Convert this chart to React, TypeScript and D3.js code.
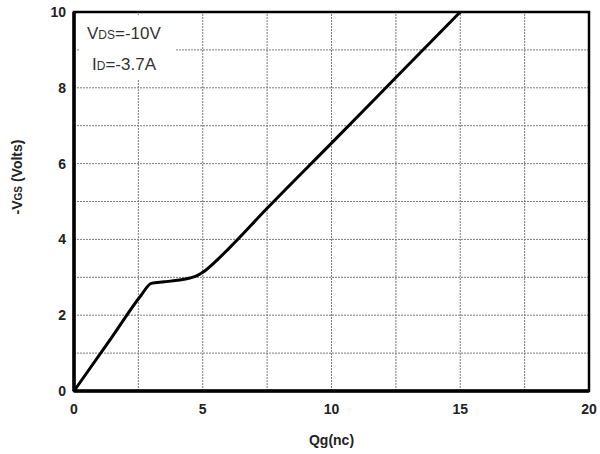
import React, { useEffect, useRef } from 'react';
import * as d3 from 'd3';

// gate charge curve
const qg = [0, 1.5, 2.6, 3, 3.5, 4, 4.5, 4.8, 5, 5.5, 6, 7.5, 10, 12.5, 15];
const vgs = [0, 1.45, 2.52, 2.84, 2.88, 2.92, 2.98, 3.05, 3.13, 3.42, 3.75, 4.82, 6.54, 8.27, 10];

const xTicks = [0, 5, 10, 15, 20];
const yTicks = [0, 2, 4, 6, 8, 10];
const xGrid = [2.5, 5, 7.5, 10, 12.5, 15, 17.5];
const yGrid = [1, 2, 3, 4, 5, 6, 7, 8, 9];

const W = 600;
const H = 454;
const m = { left: 74, right: 11, top: 12, bottom: 63 };

function draw(el: SVGSVGElement) {
    const svg = d3.select(el);
    svg.selectAll('*').remove();

    const x = d3.scaleLinear().domain([0, 20]).range([m.left, W - m.right]);
    const y = d3.scaleLinear().domain([0, 10]).range([H - m.bottom, m.top]);
    const font = 'Liberation Sans, Arial, sans-serif';

    const g = svg.append('g');

    // grid
    g.selectAll('.vg').data(xGrid).enter().append('line')
        .attr('x1', d => x(d)).attr('x2', d => x(d))
        .attr('y1', y(0)).attr('y2', y(10))
        .attr('stroke', '#7a7a7a').attr('stroke-width', 1).attr('stroke-dasharray', '2,1');
    g.selectAll('.hg').data(yGrid).enter().append('line')
        .attr('x1', x(0)).attr('x2', x(20))
        .attr('y1', d => y(d)).attr('y2', d => y(d))
        .attr('stroke', '#7a7a7a').attr('stroke-width', 1).attr('stroke-dasharray', '2,1');

    // legend box (hides grid behind text)
    g.append('rect').attr('x', 80).attr('y', 15).attr('width', 95).attr('height', 64).attr('fill', '#fff');

    const t1 = g.append('text').attr('x', 87).attr('y', 39)
        .attr('font-family', font).attr('font-size', 17).attr('fill', '#333');
    t1.append('tspan').text('V');
    t1.append('tspan').attr('font-size', 12).text('DS');
    t1.append('tspan').text('=-10V');

    const t2 = g.append('text').attr('x', 92).attr('y', 70)
        .attr('font-family', font).attr('font-size', 17).attr('fill', '#333');
    t2.append('tspan').text('I');
    t2.append('tspan').attr('font-size', 12).text('D');
    t2.append('tspan').text('=-3.7A');

    // frame
    g.append('rect')
        .attr('x', x(0)).attr('y', y(10))
        .attr('width', x(20) - x(0)).attr('height', y(0) - y(10))
        .attr('fill', 'none').attr('stroke', '#000').attr('stroke-width', 2.5);
    g.append('line').attr('x1', x(0)).attr('x2', x(0)).attr('y1', y(0)).attr('y2', y(10))
        .attr('stroke', '#000').attr('stroke-width', 3.5);
    g.append('line').attr('x1', x(0)).attr('x2', x(20)).attr('y1', y(0)).attr('y2', y(0))
        .attr('stroke', '#000').attr('stroke-width', 3.5);

    // curve
    const pts: [number, number][] = qg.map((q, i) => [q, vgs[i]]);
    const line = d3.line<[number, number]>()
        .x(d => x(d[0]))
        .y(d => y(d[1]))
        .curve(d3.curveMonotoneX);
    g.append('path').attr('d', line(pts))
        .attr('fill', 'none').attr('stroke', '#000').attr('stroke-width', 3)
        .attr('stroke-linejoin', 'round');

    // tick labels
    g.selectAll('.xt').data(xTicks).enter().append('text')
        .attr('x', d => x(d)).attr('y', y(0) + 23)
        .attr('text-anchor', 'middle')
        .attr('font-family', font).attr('font-weight', 'bold').attr('font-size', 14).attr('fill', '#222')
        .text(d => d);
    g.selectAll('.yt').data(yTicks).enter().append('text')
        .attr('x', m.left - 8).attr('y', d => y(d) + 5)
        .attr('text-anchor', 'end')
        .attr('font-family', font).attr('font-weight', 'bold').attr('font-size', 14).attr('fill', '#222')
        .text(d => d);

    // axis titles
    g.append('text').attr('x', (x(0) + x(20)) / 2).attr('y', 445)
        .attr('text-anchor', 'middle')
        .attr('font-family', font).attr('font-weight', 'bold').attr('font-size', 14).attr('fill', '#222')
        .text('Qg(nc)');

    const yt = g.append('text')
        .attr('transform', 'translate(22,177) rotate(-90)')
        .attr('text-anchor', 'middle')
        .attr('font-family', font).attr('font-weight', 'bold').attr('font-size', 14).attr('fill', '#222');
    yt.append('tspan').text('-V');
    yt.append('tspan').attr('font-size', 10).text('GS');
    yt.append('tspan').text(' (Volts)');
}

export default function App() {
    const ref = useRef<SVGSVGElement>(null);
    useEffect(() => {
        if (ref.current) draw(ref.current);
    }, []);
    return (
        <svg ref={ref} width={W} height={H}
            style={{ position: 'absolute', left: 0, top: 0, background: '#fff' }} />
    );
}
